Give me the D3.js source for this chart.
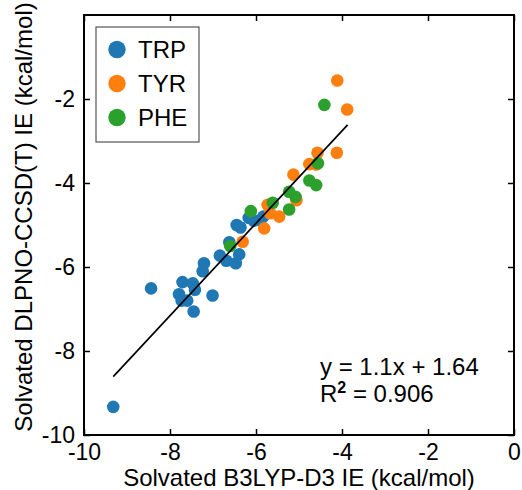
<!DOCTYPE html>
<html>
<head>
<meta charset="utf-8">
<script src="https://cdn.jsdelivr.net/npm/d3@7"></script>
<style>
  html, body { margin: 0; padding: 0; background: #fff; }
  svg text { font-family: "Liberation Sans", Arial, Helvetica, sans-serif; }
</style>
</head>
<body>
<div id="chart"></div>
<script>
// solvated interaction energies
const trpX = [-9.32, -8.44, -7.71, -7.47, -7.42, -7.79, -7.73, -7.60, -7.45, -7.01, -7.21, -7.24,
              -6.84, -6.69, -6.47, -6.39, -6.62, -6.45, -6.36, -6.17, -6.05, -5.90, -5.83];
const trpY = [-9.33, -6.51, -6.36, -6.39, -6.54, -6.65, -6.80, -6.80, -7.06, -6.68, -5.91, -6.10,
              -5.73, -5.85, -5.91, -5.70, -5.41, -5.00, -5.06, -4.83, -4.90, -4.88, -4.80];
const tyrX = [-6.31, -5.81, -5.73, -5.67, -5.46, -5.06, -5.13, -4.76, -4.60, -4.57, -4.12, -4.11, -3.88];
const tyrY = [-5.40, -5.08, -4.52, -4.72, -4.80, -4.41, -3.80, -3.55, -3.56, -3.28, -3.28, -1.56, -2.25];
const pheX = [-6.60, -6.12, -5.61, -5.23, -5.23, -5.08, -4.76, -4.60, -4.56, -4.41];
const pheY = [-5.50, -4.67, -4.47, -4.63, -4.21, -4.33, -3.94, -4.05, -3.53, -2.14];

const seriesNames = ['TRP', 'TYR', 'PHE'];
const seriesColors = ['#1f77b4', '#ff7f0e', '#2ca02c'];

// linear fit shown in the figure
const fitSlope = 1.1, fitIntercept = 1.64;
const fitRange = [-9.32, -3.87];
const eqLines = ['y = 1.1x + 1.64', '0.906'];

const xTicks = [-10, -8, -6, -4, -2, 0];
const yTicks = [-10, -8, -6, -4, -2];

const W = 522, H = 490;
const pL = 84, pR = 514, pT = 15, pB = 435;

const svg = d3.select('#chart').append('svg')
    .attr('width', W)
    .attr('height', H);

const x = d3.scaleLinear().domain([-10, 0]).range([pL, pR]);
const y = d3.scaleLinear().domain([-10, 0]).range([pB, pT]);

const fmt = d => String(d);
const tickFont = 23;

// axes (ticks pointing in, on all four sides)
const gx = svg.append('g')
    .attr('transform', `translate(0,${pB})`)
    .call(d3.axisBottom(x).tickValues(xTicks).tickFormat(fmt).tickSizeInner(-6).tickSizeOuter(0).tickPadding(9));
const gy = svg.append('g')
    .attr('transform', `translate(${pL},0)`)
    .call(d3.axisLeft(y).tickValues(yTicks).tickFormat(fmt).tickSizeInner(-6).tickSizeOuter(0).tickPadding(9));
const gt = svg.append('g')
    .attr('transform', `translate(0,${pT})`)
    .call(d3.axisTop(x).tickValues(xTicks).tickFormat('').tickSizeInner(-6).tickSizeOuter(0));
const gr = svg.append('g')
    .attr('transform', `translate(${pR},0)`)
    .call(d3.axisRight(y).tickValues(yTicks).tickFormat('').tickSizeInner(-6).tickSizeOuter(0));

[gx, gy, gt, gr].forEach(g => {
    g.select('.domain').remove();
    g.selectAll('.tick line').attr('stroke', '#000').attr('stroke-width', 1.5);
    g.selectAll('.tick text')
        .attr('fill', '#000')
        .style('font-size', tickFont + 'px')
        .style('font-family', '"Liberation Sans", Arial, sans-serif');
});

// frame
svg.append('rect')
    .attr('x', pL).attr('y', pT)
    .attr('width', pR - pL).attr('height', pB - pT)
    .attr('fill', 'none')
    .attr('stroke', '#000')
    .attr('stroke-width', 2);

// scatter points
const groups = [
    { xs: trpX, ys: trpY },
    { xs: tyrX, ys: tyrY },
    { xs: pheX, ys: pheY }
];
groups.forEach((grp, i) => {
    svg.append('g').selectAll('circle')
        .data(grp.xs.map((v, j) => [v, grp.ys[j]]))
        .enter()
        .append('circle')
        .attr('cx', d => x(d[0]))
        .attr('cy', d => y(d[1]))
        .attr('r', 6.3)
        .attr('fill', seriesColors[i]);
});

// fit line
svg.append('line')
    .attr('x1', x(fitRange[0])).attr('y1', y(fitSlope * fitRange[0] + fitIntercept))
    .attr('x2', x(fitRange[1])).attr('y2', y(fitSlope * fitRange[1] + fitIntercept))
    .attr('stroke', '#000')
    .attr('stroke-width', 1.7);

// legend
const legend = svg.append('g');
legend.append('rect')
    .attr('x', 96).attr('y', 27)
    .attr('width', 103).attr('height', 115)
    .attr('fill', '#fff')
    .attr('stroke', '#555')
    .attr('stroke-width', 1.2);
seriesNames.forEach((name, i) => {
    const cy = 49.5 + i * 34;
    legend.append('circle')
        .attr('cx', 117).attr('cy', cy).attr('r', 8.7)
        .attr('fill', seriesColors[i]);
    legend.append('text')
        .attr('x', 138).attr('y', cy + 8.5)
        .style('font-size', '24px')
        .text(name);
});

// equation
svg.append('text')
    .attr('x', 320).attr('y', 375)
    .style('font-size', '24px')
    .text(eqLines[0]);
const r2 = svg.append('text')
    .attr('x', 320).attr('y', 402)
    .style('font-size', '24px');
r2.append('tspan').text('R');
r2.append('tspan').attr('dy', -9).style('font-size', '16px').style('font-weight', 'bold').text('2');
r2.append('tspan').attr('dy', 9).text(' = ' + eqLines[1]);

// axis labels
svg.append('text')
    .attr('x', (pL + pR) / 2).attr('y', 486)
    .attr('text-anchor', 'middle')
    .style('font-size', '24px')
    .text('Solvated B3LYP-D3 IE (kcal/mol)');
svg.append('text')
    .attr('transform', `translate(32,217) rotate(-90)`)
    .attr('text-anchor', 'middle')
    .style('font-size', '24px')
    .text('Solvated DLPNO-CCSD(T) IE (kcal/mol)');
</script>
</body>
</html>
